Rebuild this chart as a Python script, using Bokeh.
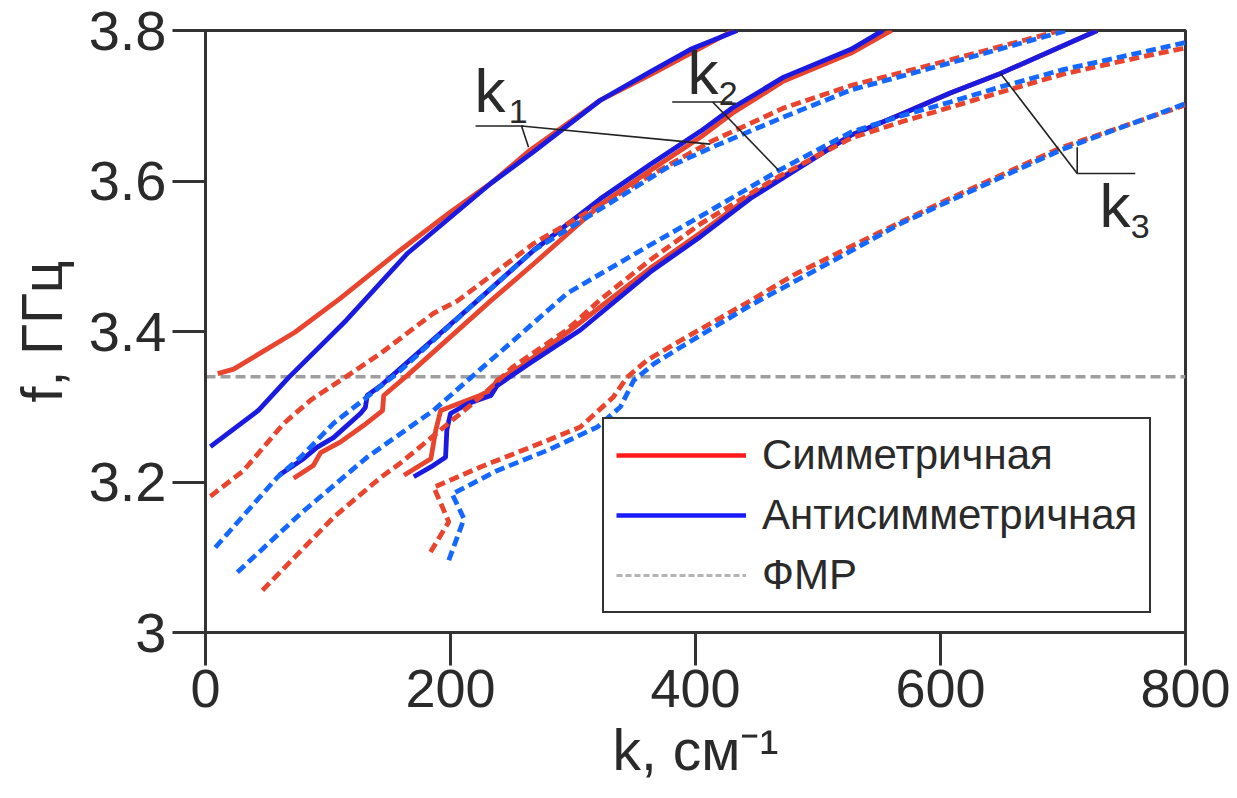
from bokeh.plotting import figure
from bokeh.models import FixedTicker, Legend, LegendItem
from bokeh.core.properties import value
from bokeh.embed import file_html
from bokeh.resources import INLINE

# Dispersion curves: wavenumber k (cm^-1) vs frequency f (GHz)
# Solid lines: first group of modes; dashed lines: second group
sym1_k = [10, 23, 73, 110, 159, 200, 233, 265, 322, 363, 431]
sym1_f = [3.344, 3.350, 3.399, 3.444, 3.508, 3.559, 3.597, 3.641, 3.707, 3.741, 3.800]
anti1_k = [4, 43, 68, 115, 165, 233, 268, 322, 363, 396, 434]
anti1_f = [3.247, 3.295, 3.339, 3.415, 3.504, 3.597, 3.639, 3.707, 3.745, 3.775, 3.800]

sym2_k = [72, 88, 94, 110, 129, 144.5, 145.5, 165, 233, 268, 322, 363, 404, 430, 472, 527, 560]
sym2_f = [3.205, 3.222, 3.239, 3.253, 3.275, 3.295, 3.315, 3.342, 3.441, 3.490, 3.568,
          3.614, 3.658, 3.690, 3.733, 3.770, 3.800]
anti2_k = [60, 80, 91, 104.5, 126.5, 130.5, 132, 143, 222, 268, 322, 363, 404, 430, 472, 527, 553]
anti2_f = [3.209, 3.231, 3.246, 3.259, 3.291, 3.299, 3.315, 3.328, 3.441, 3.508, 3.576,
           3.622, 3.666, 3.697, 3.738, 3.775, 3.800]

sym3_k = [162, 184, 188, 192, 224, 233, 238, 257, 298, 363, 404, 445, 527, 567, 608, 649, 728]
sym3_f = [3.209, 3.231, 3.269, 3.295, 3.315, 3.322, 3.335, 3.353, 3.402, 3.484, 3.531,
          3.580, 3.661, 3.688, 3.717, 3.743, 3.800]
anti3_k = [170, 184, 196, 197, 200, 214, 233, 238, 265, 306, 363, 404, 445, 527, 567, 608, 649, 728]
anti3_f = [3.207, 3.220, 3.233, 3.269, 3.291, 3.304, 3.315, 3.328, 3.358, 3.402, 3.479,
           3.526, 3.577, 3.661, 3.688, 3.717, 3.743, 3.800]

symd1_k = [4, 31, 64, 86, 113, 143, 186, 206, 268, 366, 412, 472, 527, 608, 698]
symd1_f = [3.181, 3.215, 3.278, 3.309, 3.338, 3.371, 3.424, 3.441, 3.517, 3.610, 3.652,
           3.697, 3.727, 3.761, 3.800]
antid1_k = [8, 58.5, 77.6, 104.5, 132, 159, 186, 222, 268, 377, 418, 472, 527, 608, 703]
antid1_f = [3.113, 3.206, 3.233, 3.278, 3.313, 3.348, 3.388, 3.441, 3.508, 3.618, 3.648,
            3.685, 3.721, 3.757, 3.800]

symd2_k = [46.5, 104.5, 143, 159, 224.5, 251, 295, 322, 363, 404, 468, 527, 567, 608, 649, 700, 750, 800]
symd2_f = [3.056, 3.153, 3.206, 3.225, 3.313, 3.353, 3.402, 3.442, 3.495, 3.543, 3.606,
           3.657, 3.678, 3.698, 3.718, 3.742, 3.760, 3.777]
antid2_k = [26, 77.6, 132, 186, 214, 257, 295.5, 363, 404, 468, 527, 567, 608, 649, 700, 750, 800]
antid2_f = [3.080, 3.158, 3.233, 3.295, 3.335, 3.396, 3.451, 3.515, 3.553, 3.614, 3.665,
            3.686, 3.705, 3.725, 3.748, 3.766, 3.784]

symd3_k = [183.7, 198.6, 186.4, 224.5, 265, 306, 333, 344, 360.6, 387.8, 445, 480, 527, 567, 608, 698, 800]
symd3_f = [3.107, 3.147, 3.193, 3.220, 3.246, 3.273, 3.313, 3.339, 3.362, 3.388, 3.441,
           3.475, 3.513, 3.545, 3.577, 3.644, 3.701]
antid3_k = [198.6, 211, 201.4, 238, 279, 319.8, 338.8, 349.6, 366, 387.8, 445, 527, 567, 608, 698, 800]
antid3_f = [3.096, 3.151, 3.184, 3.215, 3.242, 3.273, 3.300, 3.335, 3.357, 3.379, 3.435,
            3.507, 3.543, 3.574, 3.641, 3.703]

# Ferromagnetic resonance frequency
fmr_f = 3.34
k_span = [0, 800]

x_ticks = [0, 200, 400, 600, 800]
y_ticks = [3.0, 3.2, 3.4, 3.6, 3.8]
y_tick_labels = ["3", "3.2", "3.4", "3.6", "3.8"]

legend_labels = ["Симметричная", "Антисимметричная", "ФМР"]

# Branch labels k1, k2, k3 and their leader lines
lab_k = [219.6, 393.5, 729.8]
lab_f = [3.720, 3.744, 3.567]
sub_k = [247.5, 419, 755.3]
sub_f = [3.693, 3.716, 3.539]
sub_text = ["1", "2", "3"]
lead_x0 = [220.4, 258, 258, 381, 414, 711.6, 711.6, 711.6]
lead_y0 = [3.673, 3.673, 3.673, 3.705, 3.705, 3.610, 3.610, 3.610]
lead_x1 = [259.6, 263.7, 412, 430, 468, 759, 649, 711.6]
lead_y1 = [3.673, 3.645, 3.649, 3.705, 3.614, 3.610, 3.743, 3.645]

RED = "#e8442e"
BLUE_SOLID = "#1a1ae0"
BLUE_DASH = "#1468ff"
INK = "#2a2a2a"
FONT = "Liberation Sans"

p = figure(width=1237, height=798, x_range=(0, 800), y_range=(3, 3.8),
           output_backend="svg", toolbar_location=None,
           min_border_left=205, min_border_right=52,
           min_border_top=30, min_border_bottom=166)
p.xgrid.visible = False
p.ygrid.visible = False
p.background_fill_color = "white"
p.border_fill_color = "white"
p.outline_line_color = "#333333"
p.outline_line_width = 3
p.outline_line_alpha = 1

for ax in (p.xaxis[0], p.yaxis[0]):
    ax.axis_line_color = "#333333"
    ax.axis_line_width = 3
    ax.major_tick_line_color = "#333333"
    ax.major_tick_line_width = 3
    ax.major_tick_out = 33
    ax.major_tick_in = 0
    ax.minor_tick_line_color = None
    ax.major_label_text_font = FONT
    ax.major_label_text_color = INK
    ax.axis_label_text_font = FONT
    ax.axis_label_text_font_size = "57px"
    ax.axis_label_text_font_style = "normal"
    ax.axis_label_text_color = INK

p.xaxis.major_label_text_font_size = "54px"
p.yaxis.major_label_text_font_size = "56px"
p.xaxis.ticker = FixedTicker(ticks=x_ticks)
p.yaxis.ticker = FixedTicker(ticks=y_ticks)
p.yaxis.major_label_overrides = {t: s for t, s in zip(y_ticks, y_tick_labels)}
p.xaxis.major_label_standoff = 4
p.yaxis.major_label_standoff = 6
p.xaxis.axis_label = "k, см⁻¹"
p.yaxis.axis_label = "f, ГГц"
p.xaxis.axis_label_standoff = 8
p.yaxis.axis_label_standoff = 12

# FMR level
p.line(k_span, [fmr_f, fmr_f], line_color="#9e9e9e", line_width=3.5, line_dash="10 5")

# solid branches
LW = 4.8
for kk, ff in ((sym1_k, sym1_f), (sym2_k, sym2_f), (sym3_k, sym3_f)):
    p.line(kk, ff, line_color=RED, line_width=LW, line_join="round")
for kk, ff in ((anti1_k, anti1_f), (anti2_k, anti2_f), (anti3_k, anti3_f)):
    p.line(kk, ff, line_color=BLUE_SOLID, line_width=LW, line_join="round")

# dashed branches
for kk, ff in ((symd1_k, symd1_f), (symd2_k, symd2_f), (symd3_k, symd3_f)):
    p.line(kk, ff, line_color=RED, line_width=LW, line_dash="10 5")
for kk, ff in ((antid1_k, antid1_f), (antid2_k, antid2_f), (antid3_k, antid3_f)):
    p.line(kk, ff, line_color=BLUE_DASH, line_width=LW, line_dash="10 5")

# leader lines and branch labels
p.segment(lead_x0, lead_y0, lead_x1, lead_y1, line_color="#222222", line_width=1.6)
p.text(lab_k, lab_f, text=["k", "k", "k"], text_font=value(FONT),
       text_font_size=value("62px"), text_color=INK,
       text_baseline="alphabetic", text_align="left")
p.text(sub_k, sub_f, text=sub_text, text_font=value(FONT),
       text_font_size=value("34px"), text_color=INK,
       text_baseline="alphabetic", text_align="left")

# legend entries: renderers placed outside the visible ranges carry the legend styles
off_x = [-1000, -900]
off_y = [0, 0]
r_sym = p.line(off_x, off_y, line_color="#ff1a1a", line_width=4.5)
r_anti = p.line(off_x, off_y, line_color="#1a1aff", line_width=4.5)
r_fmr = p.line(off_x, off_y, line_color="#b4b4b4", line_width=3, line_dash="6 3")
legend = Legend(items=[LegendItem(label=legend_labels[0], renderers=[r_sym]),
                       LegendItem(label=legend_labels[1], renderers=[r_anti]),
                       LegendItem(label=legend_labels[2], renderers=[r_fmr])],
                location=(397, 19), orientation="vertical",
                glyph_width=130, glyph_height=46, label_height=46,
                label_text_font=FONT, label_text_font_size="42px",
                label_text_color=INK, label_standoff=16,
                spacing=12, padding=12, margin=0,
                border_line_color="#333333", border_line_width=2, border_line_alpha=1,
                background_fill_color="white", background_fill_alpha=1)
p.add_layout(legend)

open("out.html", "w").write(file_html(p, INLINE))
